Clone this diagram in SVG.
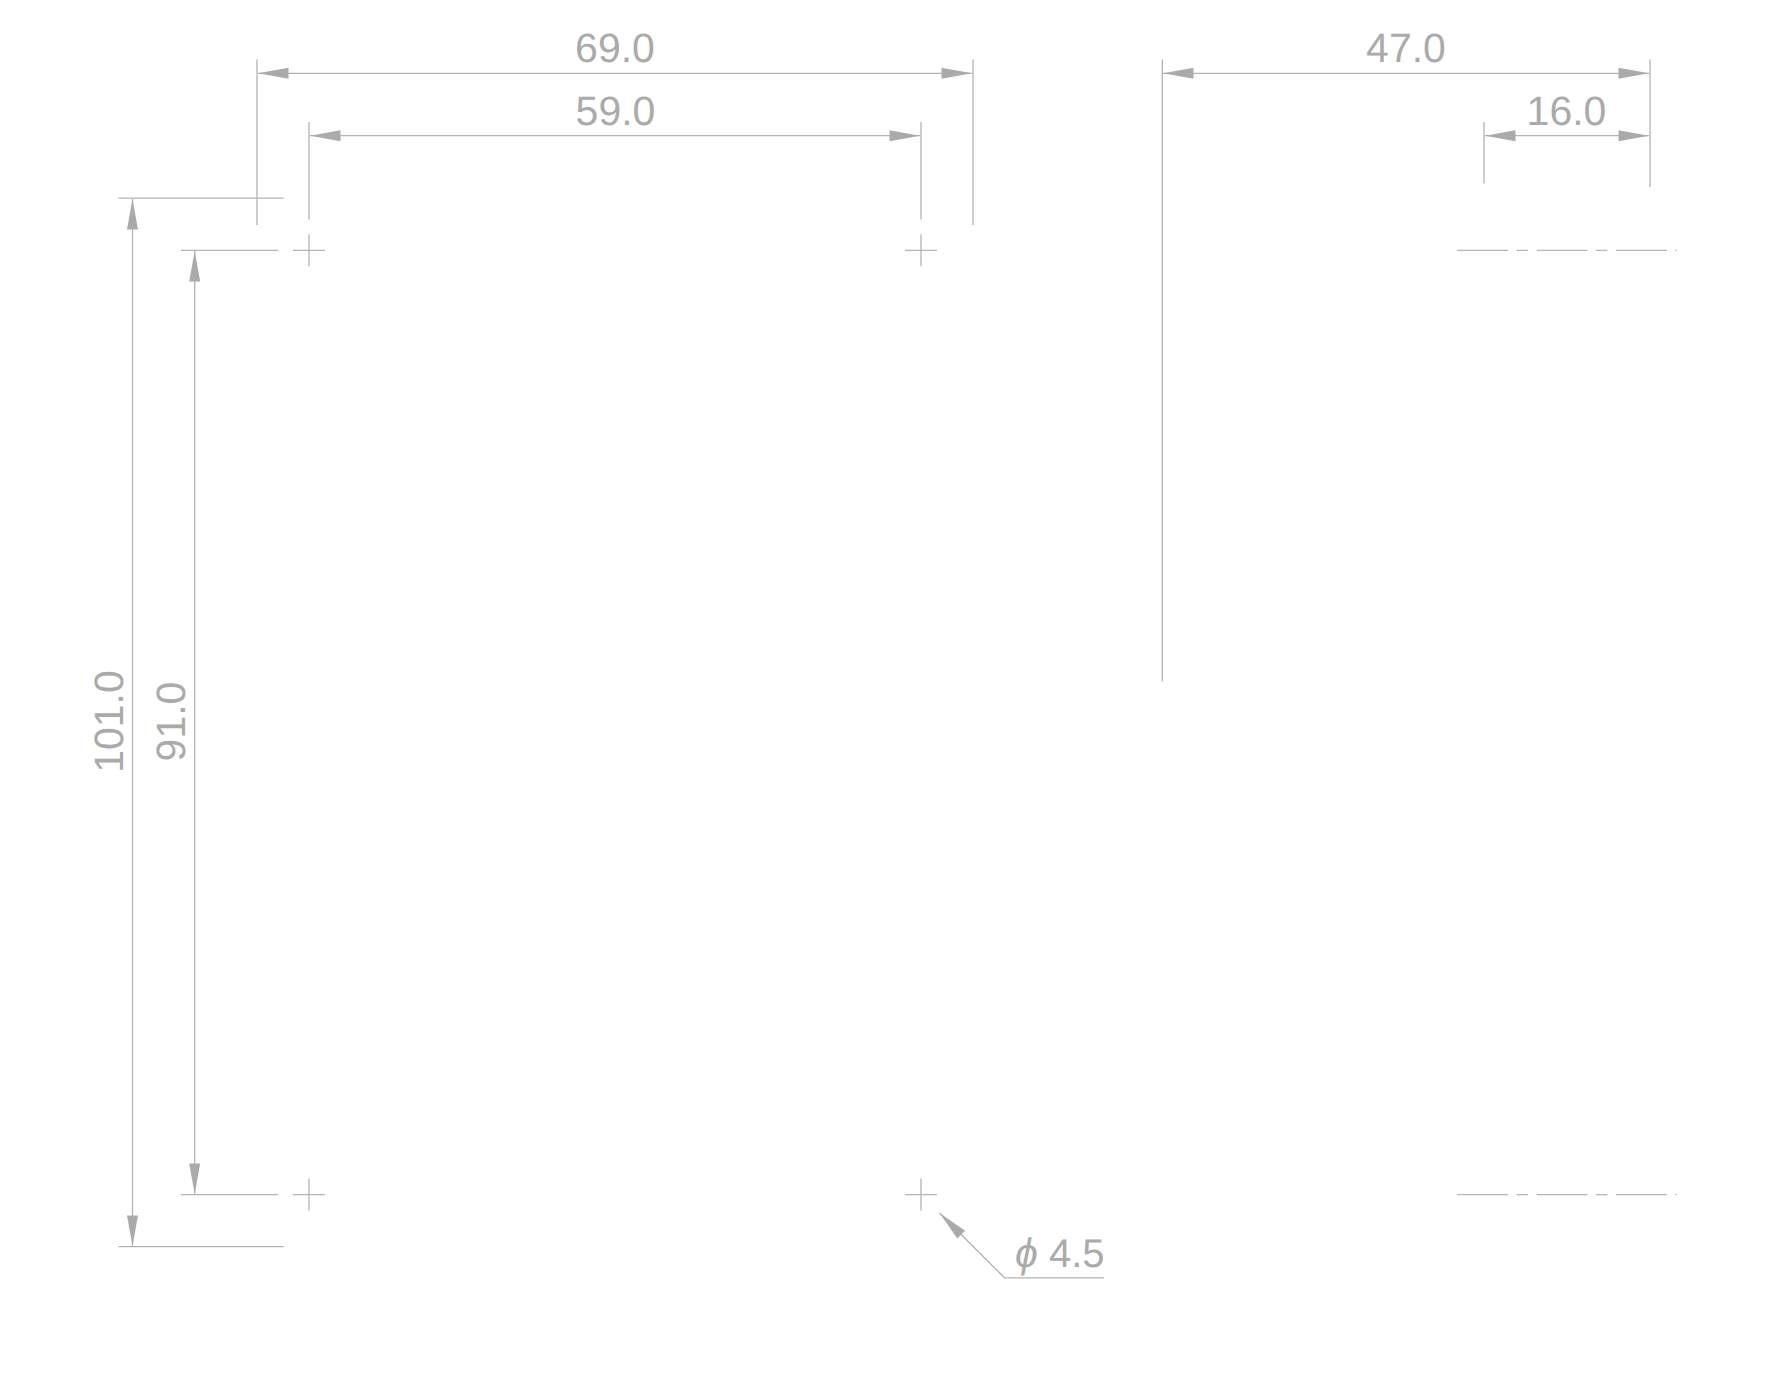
<svg xmlns="http://www.w3.org/2000/svg" width="1770" height="1380" viewBox="0 0 1770 1380">
<style>
.l{stroke:#b3b3b3;stroke-width:1.3;fill:none}
.c{stroke:#b3b3b3;stroke-width:1.3;fill:none;stroke-dasharray:50.7 8.7 11.3 8.7}
.a{fill:#aaaaaa;stroke:none}
text{font-family:"Liberation Sans",Arial,sans-serif;font-size:41px;fill:#aaaaaa;text-anchor:middle;text-rendering:geometricPrecision}
</style>
<defs>
<path id="ah" class="a" d="M0 0L30.5 -5.5V5.5Z"/>
<g id="cross"><path class="l" d="M-16 0H16M0 -16V16"/></g>
</defs>
<rect width="1770" height="1380" fill="#ffffff"/>
<g id="centre-marks">
<use href="#cross" x="309" y="250.3"/>
<use href="#cross" x="921" y="250.3"/>
<use href="#cross" x="309" y="1194.6"/>
<use href="#cross" x="921" y="1194.6"/>
<path class="c" d="M1457.3 250.3H1677"/>
<path class="c" d="M1457.3 1194.6H1677"/>
</g>
<g id="connectors">
<path class="l" d="M257 59.5V225M973 59.5V225M309 122V219.5M921 122V219.5M1162.3 59.5V681.5M1650 59.5V187M1484 122V183.5"/>
<path class="l" d="M118.5 198.2H283.7M118.5 1246.7H283.7M181 250.3H278M181 1194.6H278"/>
<path class="l" d="M258 73.3H972M310 135.7H920M1163 73.3H1649M1485 135.7H1649M132.5 199V1246M194.7 251V1194"/>
<path class="l" d="M939.6 1213L1004.6 1277.8H1104"/>
<use href="#ah" x="258" y="73.3"/>
<use href="#ah" transform="translate(972 73.3) rotate(180)"/>
<use href="#ah" x="310" y="135.7"/>
<use href="#ah" transform="translate(920 135.7) rotate(180)"/>
<use href="#ah" x="1163" y="73.3"/>
<use href="#ah" transform="translate(1649 73.3) rotate(180)"/>
<use href="#ah" x="1485" y="135.7"/>
<use href="#ah" transform="translate(1649 135.7) rotate(180)"/>
<use href="#ah" transform="translate(132.5 199) rotate(90)"/>
<use href="#ah" transform="translate(132.5 1246) rotate(-90)"/>
<use href="#ah" transform="translate(194.7 251) rotate(90)"/>
<use href="#ah" transform="translate(194.7 1194) rotate(-90)"/>
<use href="#ah" transform="translate(939.6 1213) rotate(45)"/>
</g>
<g id="dim-69"><text x="615" y="62" transform="rotate(0.01 615 62)">69.0</text></g>
<g id="dim-59"><text x="615.5" y="125" transform="rotate(0.01 615 125)">59.0</text></g>
<g id="dim-47"><text x="1406" y="62" transform="rotate(0.01 1406 62)">47.0</text></g>
<g id="dim-16"><text x="1566.5" y="125" transform="rotate(0.01 1566 125)">16.0</text></g>
<g id="dim-101"><text transform="translate(122.7 721.5) rotate(-90)">101.0</text></g>
<g id="dim-91"><text transform="translate(185 721.5) rotate(-90)">91.0</text></g>
<g id="dia"><text x="1015" y="1266.7" transform="rotate(0.01 1015 1266)" style="text-anchor:start;font-style:italic">ϕ</text><text x="1104.5" y="1266.7" transform="rotate(0.01 1104 1266)" style="text-anchor:end;font-size:40px">4.5</text></g>
</svg>
